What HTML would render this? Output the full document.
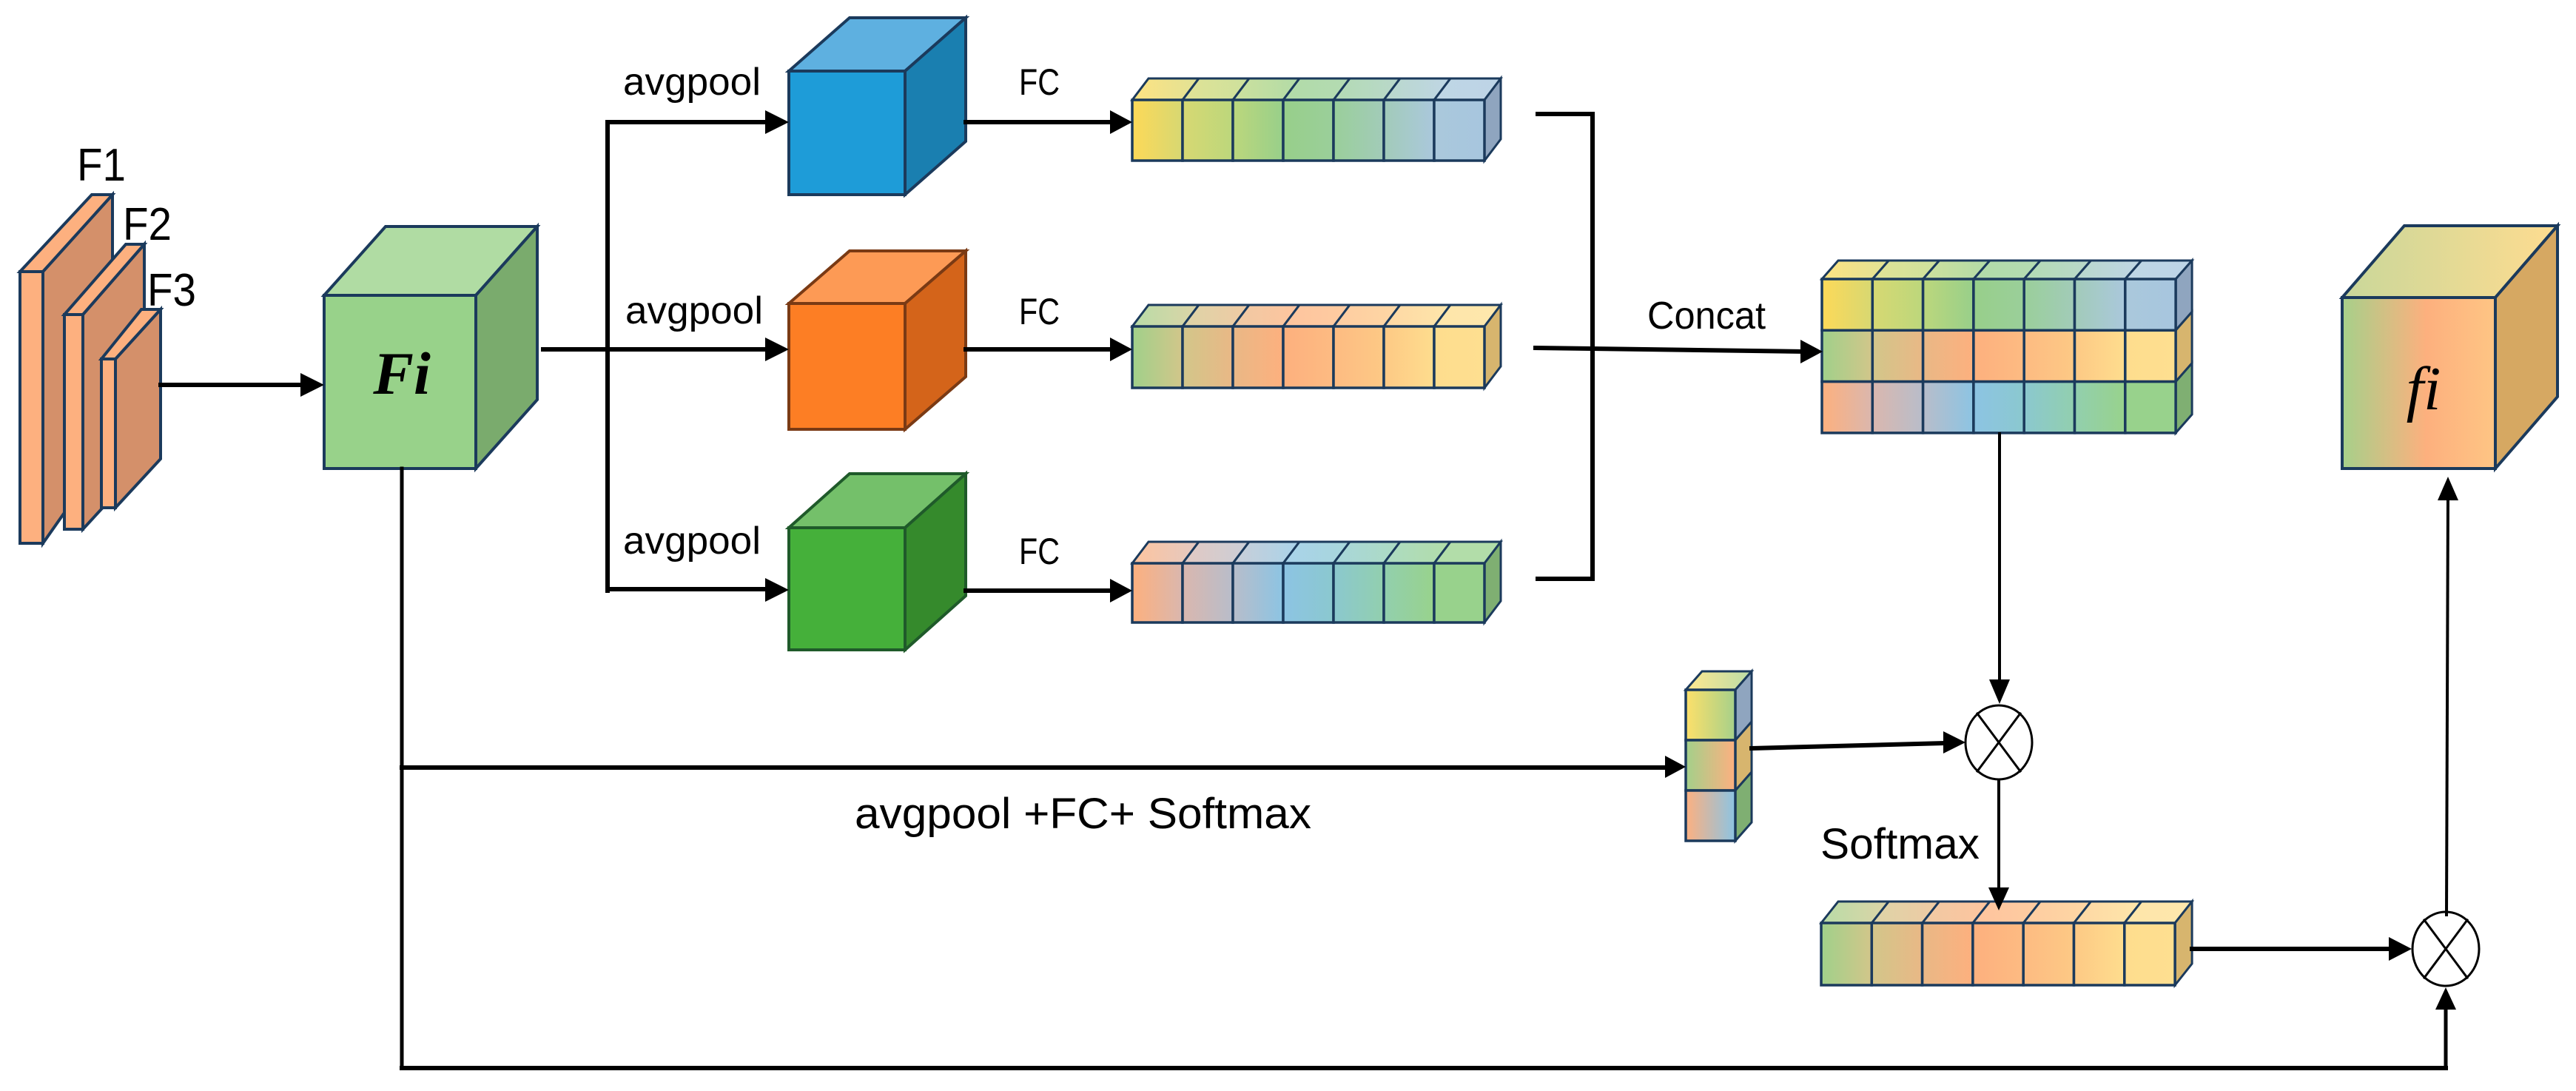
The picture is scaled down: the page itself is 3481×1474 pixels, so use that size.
<!DOCTYPE html>
<html><head><meta charset="utf-8"><style>html,body{margin:0;padding:0;background:#fff}svg{display:block}text{font-family:"Liberation Sans",sans-serif;fill:#000}</style></head>
<body>
<svg id="s" xmlns="http://www.w3.org/2000/svg" width="3481" height="1474" viewBox="0 0 3481 1474">
<defs id="d"></defs>
<rect width="3481" height="1474" fill="#fff"/>
<g id="shapes"></g>
<g id="lines" stroke="#000" fill="none" stroke-linecap="square">
  <!-- F stack to Fi -->
  <line x1="217" y1="520" x2="410" y2="520" stroke-width="6"/>
  <!-- Fi to branches -->
  <line x1="734" y1="472" x2="1040" y2="472" stroke-width="6"/>
  <line x1="821" y1="165" x2="821" y2="798" stroke-width="6"/>
  <line x1="821" y1="165" x2="1040" y2="165" stroke-width="6"/>
  <line x1="821" y1="796" x2="1040" y2="796" stroke-width="6"/>
  <!-- cubes to bars -->
  <line x1="1305" y1="165" x2="1505" y2="165" stroke-width="6"/>
  <line x1="1305" y1="472" x2="1505" y2="472" stroke-width="6"/>
  <line x1="1305" y1="798" x2="1505" y2="798" stroke-width="6"/>
  <!-- bracket -->
  <polyline points="2075,154 2152,154 2152,782 2075,782" stroke-width="6" stroke-linecap="butt"/>
  <line x1="2075" y1="470" x2="2437" y2="475" stroke-width="6"/>
  <!-- concat down -->
  <line x1="2702" y1="586" x2="2702" y2="925" stroke-width="4"/>
  <!-- Fi down -->
  <line x1="543" y1="633" x2="543" y2="1443" stroke-width="5"/>
  <line x1="543" y1="1037" x2="2255" y2="1037" stroke-width="6"/>
  <line x1="543" y1="1443" x2="3305" y2="1443" stroke-width="6"/>
  <line x1="3305" y1="1443" x2="3305" y2="1362" stroke-width="5"/>
  <!-- stack to circle -->
  <line x1="2367" y1="1011" x2="2630" y2="1004" stroke-width="6"/>
  <!-- circle1 down -->
  <line x1="2701" y1="1054" x2="2701" y2="1205" stroke-width="4"/>
  <!-- bottom bar to circle2 -->
  <line x1="2962" y1="1282" x2="3230" y2="1282" stroke-width="6"/>
  <!-- circle2 up to fi -->
  <line x1="3306" y1="1236" x2="3308" y2="672" stroke-width="4"/>
  <!-- circles -->
  <ellipse cx="2701" cy="1003" rx="45" ry="50" stroke-width="3"/>
  <line x1="2672" y1="964" x2="2730" y2="1042" stroke-width="3"/>
  <line x1="2730" y1="964" x2="2672" y2="1042" stroke-width="3"/>
  <ellipse cx="3305" cy="1282" rx="45" ry="50" stroke-width="3"/>
  <line x1="3276" y1="1243" x2="3334" y2="1321" stroke-width="3"/>
  <line x1="3334" y1="1243" x2="3276" y2="1321" stroke-width="3"/>
</g>
<g fill="#000">
  <polygon points="438,520 406,504 406,536"/>
  <polygon points="1066,165 1034,149 1034,181"/>
  <polygon points="1066,472 1034,456 1034,488"/>
  <polygon points="1066,797 1034,781 1034,813"/>
  <polygon points="1530,165 1500,149 1500,181"/>
  <polygon points="1530,472 1500,456 1500,488"/>
  <polygon points="1530,798 1500,782 1500,814"/>
  <polygon points="2463,475 2433,459 2433,491"/>
  <polygon points="2702,951 2688,918 2716,918"/>
  <polygon points="2278,1036 2250,1021 2250,1051"/>
  <polygon points="2656,1003 2626,988 2626,1018"/>
  <polygon points="2701,1230 2687,1199 2715,1199"/>
  <polygon points="3259,1282 3228,1266 3228,1298"/>
  <polygon points="3305,1334 3291,1364 3319,1364"/>
  <polygon points="3308,644 3294,676 3322,676"/>
</g>
<g id="labels">
  <text x="104" y="244" font-size="62" textLength="66" lengthAdjust="spacingAndGlyphs">F1</text>
  <text x="166" y="324" font-size="62" textLength="66" lengthAdjust="spacingAndGlyphs">F2</text>
  <text x="199" y="413" font-size="62" textLength="66" lengthAdjust="spacingAndGlyphs">F3</text>
  <text x="842" y="128" font-size="52" textLength="186" lengthAdjust="spacingAndGlyphs">avgpool</text>
  <text x="845" y="437" font-size="52" textLength="186" lengthAdjust="spacingAndGlyphs">avgpool</text>
  <text x="842" y="748" font-size="52" textLength="186" lengthAdjust="spacingAndGlyphs">avgpool</text>
  <text x="1377" y="128" font-size="50" textLength="55" lengthAdjust="spacingAndGlyphs">FC</text>
  <text x="1377" y="438" font-size="50" textLength="55" lengthAdjust="spacingAndGlyphs">FC</text>
  <text x="1377" y="762" font-size="50" textLength="55" lengthAdjust="spacingAndGlyphs">FC</text>
  <text x="2226" y="444" font-size="52" textLength="160" lengthAdjust="spacingAndGlyphs">Concat</text>
  <text x="1155" y="1119" font-size="58" textLength="617" lengthAdjust="spacingAndGlyphs">avgpool  +FC+ Softmax</text>
  <text x="2460" y="1160" font-size="58" textLength="215" lengthAdjust="spacingAndGlyphs">Softmax</text>
  <text x="543" y="532" font-size="82" font-weight="bold" font-style="italic" text-anchor="middle" style="font-family:'Liberation Serif',serif">Fi</text>
  <text x="3275" y="553" font-size="84" font-style="italic" text-anchor="middle" style="font-family:'Liberation Serif',serif">fi</text>
</g>
</svg>
<script>
(function(){
var NS="http://www.w3.org/2000/svg",g=document.getElementById("shapes"),defs=document.getElementById("d"),gid=0;
var ST="#1b3a5c";
function el(n,a,p){var e=document.createElementNS(NS,n);for(var k in a)e.setAttribute(k,a[k]);(p||g).appendChild(e);return e;}
function grad(c1,c2){var id="g"+(gid++);var lg=el("linearGradient",{id:id,x1:"0",y1:"0",x2:"1",y2:"0"},defs);el("stop",{offset:"0","stop-color":c1},lg);el("stop",{offset:"1","stop-color":c2},lg);return "url(#"+id+")";}
function hex(c){return [parseInt(c.substr(1,2),16),parseInt(c.substr(3,2),16),parseInt(c.substr(5,2),16)];}
function mix(c,t,f){var a=hex(c),b=hex(t);return "rgb("+a.map(function(v,i){return Math.round(v+(b[i]-v)*f)}).join(",")+")";}
function poly(pts,fill,sw){el("polygon",{points:pts.map(function(p){return p.join(",")}).join(" "),fill:fill,stroke:ST,"stroke-width":sw||4,"stroke-linejoin":"miter"});}
function cube(x,y,w,h,dx,dy,front,top,side,stroke){
  var s=stroke||ST;
  el("polygon",{points:[x,y,x+dx,y+dy,x+w+dx,y+dy,x+w,y].join(","),fill:top,stroke:s,"stroke-width":4});
  el("polygon",{points:[x+w,y,x+w+dx,y+dy,x+w+dx,y+h+dy,x+w,y+h].join(","),fill:side,stroke:s,"stroke-width":4});
  el("rect",{x:x,y:y,width:w,height:h,fill:front,stroke:s,"stroke-width":4});
}
// bar: rows of cells; cols: array of colors (n+1) per row
function block(x,y,cw,rh,dx,dy,rows,sides){
  var n=rows[0].length-1,W=cw*n;
  // top
  for(var i=0;i<n;i++){var c=rows[0];poly([[x+i*cw,y],[x+i*cw+dx,y+dy],[x+(i+1)*cw+dx,y+dy],[x+(i+1)*cw,y]],grad(mix(c[i],"#ffffff",0.25),mix(c[i+1],"#ffffff",0.25)),3);}
  for(var r=0;r<rows.length;r++){
    var yy=y+r*rh;
    poly([[x+W,yy],[x+W+dx,yy+dy],[x+W+dx,yy+rh+dy],[x+W,yy+rh]],sides[r],3);
    for(var i=0;i<n;i++){el("rect",{x:x+i*cw,y:yy,width:cw,height:rh,fill:grad(rows[r][i],rows[r][i+1]),stroke:ST,"stroke-width":3.5});}
  }
}
var R1=["#fdd958","#d7d872","#bcd77c","#98cf8a","#9acf9a","#a2cbb9","#aac8dc","#a7c6de"];
var R2=["#a0d08a","#d2c68a","#e9b886","#fdb07e","#fdbb82","#fdc985","#fedd8e","#fedf90"];
var R3=["#fdb07e","#dab7ae","#b8bdca","#8cc4e3","#8bc8cf","#92cfae","#98d28c","#98d28c"];
var S1="#8fa5bf",S2="#d7b56e",S3="#7faf72";
// F planes
function plane(fx,fw,ty,by,bx,byb){
  el("polygon",{points:[fx+fw,ty,bx,ty-(fx+fw<bx?0:0)].join(",")});
}
function fplane(x0,x1,yt,yb,bx0,bx1,byt,byb){
  el("polygon",{points:[x1,yt,bx1,byt,bx1,byb,x1,yb].join(","),fill:"#d4906a",stroke:ST,"stroke-width":4});
  el("polygon",{points:[x0,yt,bx0,byt,bx1,byt,x1,yt].join(","),fill:"#fdb07f",stroke:ST,"stroke-width":4});
  el("rect",{x:x0,y:yt,width:x1-x0,height:yb-yt,fill:"#fdb07f",stroke:ST,"stroke-width":4});
}
fplane(27,58,367,734,124,152,263,600);
fplane(87,112,425,715,170,195,330,625);
fplane(137,156,485,686,191,217,418,620);
// Fi cube
cube(438,399,205,234,83,-93,"#98d28a","#b0dca3","#7aab6d");
// branch cubes
cube(1066,96,157,167,82,-72,"#1e9cd8","#5eb0e0","#1a7fb0");
cube(1066,410,157,170,82,-71,"#fd7e24","#fd9a55","#d4641a","#7a3a14");
cube(1066,713,157,165,82,-73,"#45b03a","#74c06a","#358a2c","#1f5a2a");
// bars
block(1530,135,68,82,22,-29,[R1],[S1]);
block(1530,441,68,83,22,-29,[R2],[S2]);
block(1530,761,68,80,22,-29,[R3],[S3]);
// concat
block(2462,377,68.3,69.3,22,-25,[R1,R2,R3],[S1,S2,S3]);
// bottom bar
block(2461,1247,68.3,84,23,-29,[R2],[S2]);
// small stack
block(2278,932,67,68,22,-25,[["#fde06a","#a6d08a"],["#a3d08a","#fdb080"],["#fdb080","#8cc4e3"]],["#8fa5bf","#d7b56e","#7faf72"]);
// fi cube
var gf=grad("#a6d08a","#fdb07e");var id2="g"+(gid++);var lg=el("linearGradient",{id:id2,x1:"0",y1:"0",x2:"1",y2:"0"},defs);
[["0","#a6d08a"],["0.55","#fdb07e"],["1","#fec584"]].forEach(function(s){el("stop",{offset:s[0],"stop-color":s[1]},lg);});
var gt=grad("#c9d79a","#fedc90");
cube(3165,402,207,231,84,-97,"url(#"+id2+")",gt,"#d6a862");
// bring lines/labels to front order already (shapes group first)
})();
</script>
</body></html>
